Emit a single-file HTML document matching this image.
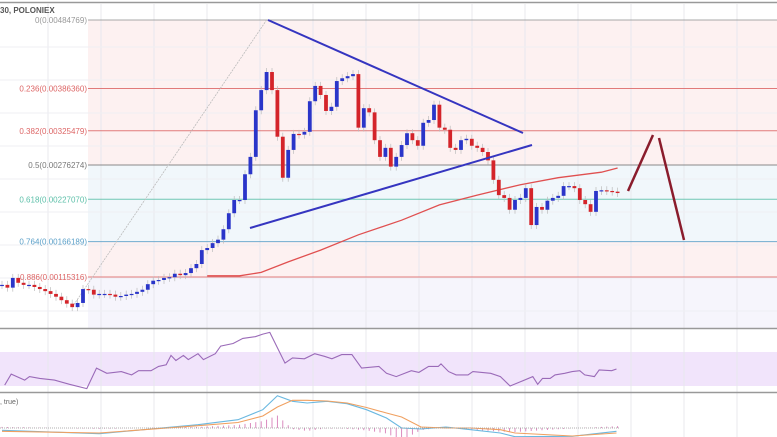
<!DOCTYPE html>
<html><head><meta charset="utf-8"><style>
html,body{margin:0;padding:0;background:#fff;}
svg{display:block;font-family:"Liberation Sans",sans-serif;}
</style></head><body>
<svg id="c" width="777" height="437" viewBox="0 0 777 437"></svg>
<script>
// ---- data (prices in 1e-5 BTC) ----
const fibRatios = ["0","0.236","0.382","0.5","0.618","0.764","0.886"];
const fibPrices = [484.769,386.360,325.479,276.274,227.070,166.189,115.316];
const fibLabels = ["0(0.00484769)","0.236(0.00386360)","0.382(0.00325479)","0.5(0.00276274)","0.618(0.00227070)","0.764(0.00166189)","0.886(0.00115316)"];
const fibColors = ["#999","#d66","#d66","#777","#5bbfa8","#5a9fc8","#d66"];
const closes = [104,100,114,107,104,104,101,98,95,91,87,82,77,72,78,98,97,90,
91,91,90,87,88,90,91,94,97,105,110,111,114,115,120,118,121,128,134,154,157,164,
169,184,207,226,226,263,288,355,384,410,
384,317,258,298,321,320,324,368,390,377,354,360,397,401,404,407,
330,358,352,312,288,301,274,288,305,322,312,304,337,341,363,330,327,301,298,312,314,304,301,295,283,255,233,229,212,226,229,243,190,216,212,225,229,232,246,246,243,226,220,209,239,240,239,238,236];
const maIdx = [38,44,48,53,59,66,74,81,88,96,103,111,114];
const maVal = [117,117,122,137,154,176,197,219,233,248,258,266,272];
const rsiIdx = [0.5,1.7,4.2,5.1,7,9.7,12.5,15.7,17.5,19.4,22.1,24,25.3,27.6,29,30.4,31.3,32.2,33.6,34.5,36.3,37.3,39.5,40.5,42.8,44.6,46.9,48.3,49.6,52.4,53.8,56,57.9,59.7,61.1,62.9,64.8,66.6,69.8,71.2,73,75.8,77.2,79,80.8,81.3,82.7,84.1,86.3,87.2,90.5,92.3,94.1,96,98.3,99.2,100.1,101.5,102.4,104.2,105.6,107,107.9,109.7,110.6,112.9,113.8];
const rsiVal = [31,44,37,41,39,37,32,27,51,45,47,43,48,48,53,55,66,60,66,61,68,61,68,77,80,86,88,91,93,57,63,62,68,65,62,67,67,51,53,45,41,48,46,53,53,56,47,43,43,47,45,41,30,35,41,32,39,39,43,45,47,48,43,41,49,48,50];
const macdIdx = [0,18,36.3,43.7,48.3,51,53.8,56.5,60.2,63.9,67.5,71.2,74,77.6,82.2,86.8,92.3,95,105.6,113.8];
const macdBlue = [-2.3,-5.7,3.3,8.3,18.3,32.3,26.7,25,26.7,24.3,18.3,10,0,-1,1,-1.7,-5,-8.7,-8.3,-3.3];
const macdOrange = [-3.3,-5,2.3,5.5,12,21,27.7,27.7,27,25,20.5,15,11,1,0,0,-1.7,-5,-8,-5];

// ---- scales ----
const X0=2, STEP=5.4;
const xS = i => X0 + i*STEP;
const yS = p => 20 + (484.769 - p)/369.453*257;
const yR = v => 386 - (v-30)/40*34;
const yM = v => 428 - v*1.0;
const NS="http://www.w3.org/2000/svg";
const svg=document.getElementById('c');
function el(t,a,parent){const e=document.createElementNS(NS,t);for(const k in a)e.setAttribute(k,a[k]);(parent||svg).appendChild(e);return e;}

// backgrounds
let b;
b=el('rect',{x:88,y:yS(fibPrices[0]),width:689,height:yS(fibPrices[3])-yS(fibPrices[0]),fill:'#fdf1f1'});

b=el('rect',{x:88,y:yS(fibPrices[3]),width:689,height:yS(fibPrices[5])-yS(fibPrices[3]),fill:'#f1f7fb'});

b=el('rect',{x:88,y:yS(fibPrices[5]),width:689,height:yS(fibPrices[6])-yS(fibPrices[5]),fill:'#fdf1f1'});

b=el('rect',{x:88,y:yS(fibPrices[6]),width:689,height:328-yS(fibPrices[6]),fill:'#f6f5fc'});

b=el('rect',{x:0,y:352,width:777,height:34,fill:'#f1e4fb'});


// grid
for(let gx=48;gx<777;gx+=53){const g=el('line',{x1:gx,y1:4,x2:gx,y2:437,stroke:'#e8e8ee','stroke-width':1});
}
for(let gy=47;gy<328;gy+=33){const g=el('line',{x1:0,y1:gy,x2:777,y2:gy,stroke:'#efeff3','stroke-width':1});
}
el('line',{x1:0,y1:2.5,x2:777,y2:2.5,stroke:'#999','stroke-width':1.5});
let sep=el('line',{x1:0,y1:328.5,x2:777,y2:328.5,stroke:'#999','stroke-width':1.5});

sep=el('line',{x1:0,y1:392.5,x2:777,y2:392.5,stroke:'#999','stroke-width':1.5});


// fib lines + labels
fibPrices.forEach((p,i)=>{
  const y=yS(p);
  const l=el('line',{x1:88,y1:y,x2:777,y2:y,stroke:fibColors[i],'stroke-width':1,opacity:0.85});
  
  
  const t=el('text',{x:87,y:y+3,'text-anchor':'end','font-size':8,fill:fibColors[i]});
  t.textContent=fibLabels[i];
  
  
});

// fib anchor dotted line
let fl=el('line',{x1:xS(13),y1:yS(72),x2:xS(49),y2:yS(fibPrices[0]),stroke:'#bbb','stroke-width':0.8,'stroke-dasharray':'2,1'});


// MA line
let mp=maIdx.map((ix,k)=>(k?'L':'M')+xS(ix).toFixed(1)+','+yS(maVal[k]).toFixed(1)).join(' ');
let ma=el('path',{d:mp,fill:'none',stroke:'#e05050','stroke-width':1.3});


// candles
closes.forEach((c,i)=>{
  const o=i?closes[i-1]:c;
  const up=c>=o;
  const col=up?'#2a35c9':'#d4242a';
  const x=xS(i);
  const top=yS(Math.max(o,c)), bot=yS(Math.min(o,c));
  const w=el('line',{x1:x,y1:top-4,x2:x,y2:bot+4,stroke:'#bbb','stroke-width':0.7});
  
  const r=el('rect',{x:x-1.9,y:top,width:3.8,height:Math.max(1.2,bot-top),fill:col});
  
});

// trendlines
let tl=el('line',{x1:268,y1:20,x2:523,y2:133,stroke:'#3535c0','stroke-width':2});

tl=el('line',{x1:250,y1:228,x2:532,y2:145,stroke:'#3535c0','stroke-width':2});

tl=el('line',{x1:628,y1:191,x2:653,y2:135,stroke:'#8a1c2c','stroke-width':2.5});

tl=el('line',{x1:659,y1:138,x2:684,y2:240,stroke:'#8a1c2c','stroke-width':2.5});


// title
let tt=el('text',{x:0,y:13,'font-size':8,'font-weight':'bold',fill:'#555'});
tt.textContent='30, POLONIEX';

// RSI
let rp=rsiIdx.map((ix,k)=>(k?'L':'M')+xS(ix).toFixed(1)+','+yR(rsiVal[k]).toFixed(1)).join(' ');
let rs=el('path',{d:rp,fill:'none',stroke:'#9a6ab8','stroke-width':1.1});


// MACD
let ml=el('text',{x:0,y:404,'font-size':7,fill:'#666'});
ml.textContent=', true)';
function interp(arrI,arrV,i){for(let k=1;k<arrI.length;k++){if(i<=arrI[k]){const t=(i-arrI[k-1])/(arrI[k]-arrI[k-1]);return arrV[k-1]+t*(arrV[k]-arrV[k-1]);}}return arrV[arrV.length-1];}
for(let i=0;i<=114;i++){
  const h=(interp(macdIdx,macdBlue,i)-interp(macdIdx,macdOrange,i))*1.1;
  const y0=428,y1=yM(h);
  const hb=el('line',{x1:xS(i),y1:y0,x2:xS(i),y2:Math.min(437,y1),stroke:'#d77fb8','stroke-width':0.9});
  
}
let mb=el('path',{d:macdIdx.map((ix,k)=>(k?'L':'M')+xS(ix).toFixed(1)+','+yM(macdBlue[k]).toFixed(1)).join(' '),fill:'none',stroke:'#6ab8e0','stroke-width':1.1});

let mo=el('path',{d:macdIdx.map((ix,k)=>(k?'L':'M')+xS(ix).toFixed(1)+','+yM(macdOrange[k]).toFixed(1)).join(' '),fill:'none',stroke:'#f0a060','stroke-width':1.1});

let bl=el('line',{x1:0,y1:428,x2:620,y2:428,stroke:'#999','stroke-width':0.8,'stroke-dasharray':'1,1'});

</script>
</body></html>
